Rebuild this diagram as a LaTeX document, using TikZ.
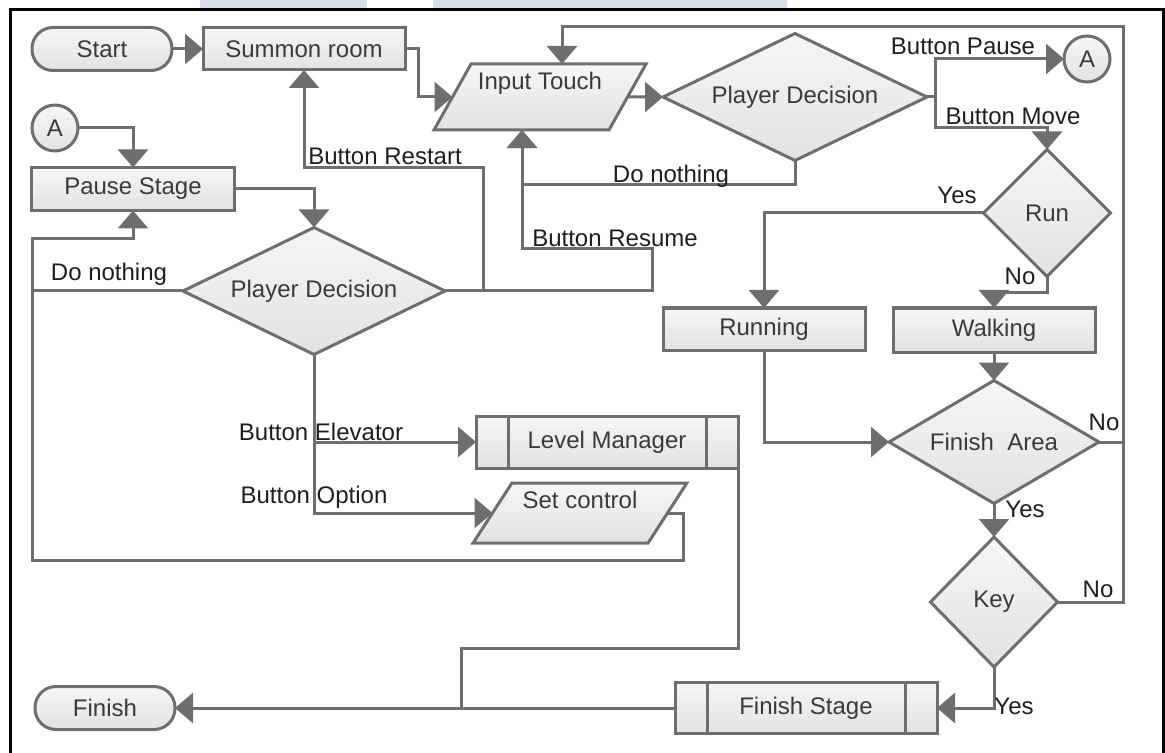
\documentclass[tikz,border=0pt]{standalone}
\usepackage{fontspec}
\setmainfont{Liberation Sans}
\usepackage{tikz}
\usepackage{xcolor}
\usetikzlibrary{arrows.meta,shapes.geometric}
\definecolor{Edge}{HTML}{6E6E6E}
\definecolor{Ink}{HTML}{3A3A3A}
\definecolor{Lbl}{HTML}{1E1E1E}
\definecolor{FillTop}{HTML}{F6F6F6}
\definecolor{FillBot}{HTML}{E2E2E2}
\definecolor{Mark}{HTML}{D5DEE8}

\begin{document}
\begin{tikzpicture}[x=0.5pt,y=-0.5pt,
  every node/.style={font=\fontsize{12}{14}\selectfont},
  box/.style={draw=Edge,line width=1.5pt,top color=FillTop,bottom color=FillBot,text=Ink,inner sep=0pt,outer sep=0pt},
  proc/.style={box,rectangle,minimum width=101pt,minimum height=21pt},
  term/.style={box,rectangle,rounded corners=10.5pt,minimum width=70pt,minimum height=21.5pt},
  decide/.style={box,diamond},
  io/.style={box,trapezium,trapezium stretches=true,minimum width=107pt},
  conn/.style={draw=Edge,line width=1.5pt},
  arr/.style={conn,-{Triangle[width=15pt,length=9pt]}},
  subproc/.style={box,rectangle,minimum width=131pt,minimum height=26pt,
    path picture={\draw[Edge,line width=1.5pt]
      ([xshift=16pt]path picture bounding box.north west) -- ([xshift=16pt]path picture bounding box.south west)
      ([xshift=-16pt]path picture bounding box.north east) -- ([xshift=-16pt]path picture bounding box.south east);}},
  lbl/.style={text=Lbl,inner sep=0pt}]
  \useasboundingbox (0,0) rectangle (1165,753);
  \fill[Mark] (200,0) rectangle (367,9);
  \fill[Mark] (433,0) rectangle (787,9);
  \draw[black,line width=1.5pt] (10,10) rectangle (1163,780);

  \node[term] (start) at (102,49) {Start};
  \node[proc] (summon) at (304,49) {Summon room};
  \node[io,minimum height=33pt,text depth=16pt,trapezium left angle=56,trapezium right angle=124] (input) at (540,97) {Input Touch};
  \node[decide,shape aspect=2.1,minimum width=132pt,minimum height=63.5pt] (pdtop) at (795,97) {Player Decision};
  \node[box,circle,minimum size=23pt] (atop) at (1087,59) {A};
  \node[decide,minimum width=63.5pt,minimum height=63.5pt] (run) at (1047,213) {Run};
  \node[proc] (running) at (764,329) {Running};
  \node[proc,minimum height=22pt] (walking) at (994,330) {Walking};
  \node[decide,shape aspect=1.7,minimum width=105pt,minimum height=61.5pt] (area) at (994,442) {Finish\ \ Area};
  \node[decide,minimum width=63.5pt,minimum height=65pt] (key) at (994,602) {Key};
  \node[subproc,minimum height=25.5pt] (fstage) at (806,708) {Finish Stage};
  \node[term] (finish) at (105,708) {Finish};
  \node[subproc] (level) at (607,442) {Level Manager};
  \node[io,minimum height=30pt,text depth=13pt,trapezium left angle=53,trapezium right angle=127] (setc) at (580,513) {Set control};
  \node[decide,shape aspect=2.1,minimum width=131pt,minimum height=63.5pt] (pdpause) at (314,291) {Player Decision};
  \node[proc,minimum width=101.5pt,minimum height=21.5pt] (pause) at (133,189) {Pause Stage};
  \node[box,circle,minimum size=23pt] (aleft) at (55,128) {A};

  \coordinate (corner) at (1123,27);
  \coordinate (restart) at (483,168);
  \coordinate (resume) at (652,249);
  \coordinate (loop) at (32,560);
  \coordinate (join) at (461,708);

  \draw[arr] (start.east) -- (summon.west);
  \draw[arr] (summon.east) -- ++(13,0) |- (input.west);
  \draw[arr] (input.east) -- (pdtop.west);
  \draw[arr] (pdtop.east) -- ++(8,0) |- (atop.west);
  \draw[arr] (pdtop.east) -- ++(8,0) |- ([yshift=11pt]run.north) -- (run.north);
  \draw[arr] (pdtop.south) -- ++(0,24) -| ([xshift=-9pt]input.south);
  \draw[arr] (run.west) -| (running.north);
  \draw[arr] (run.south) -- ++(0,16) -| (walking.north);
  \draw[arr] (walking.south) -- (area.north);
  \draw[arr] (running.south) |- (area.west);
  \draw[arr] (area.south) -- (key.north);
  \draw[arr] (area.east) -| (corner) -| ([xshift=11pt]input.north);
  \draw[conn] (key.east) -| (area.east -| corner);
  \draw[arr] (key.south) |- (fstage.east);
  \draw[arr] (fstage.west) -- (finish.east);
  \draw[conn] (level.east) |- ([yshift=30pt]join) -- (join);
  \draw[arr] (aleft.east) -| (pause.north);
  \draw[arr] (pause.east) -| (pdpause.north);
  \draw[arr] (pdpause.east) -| (restart) -| (summon.south);
  \draw[arr] (pdpause.east) -| (resume) -| ([xshift=-9pt]input.south);
  \draw[arr] (setc.east) -- ++(16,0) |- (loop) |- ([yshift=-14pt]pause.south) -- (pause.south);
  \draw[conn] (pdpause.west) -- (pdpause.west -| loop);
  \draw[arr] (pdpause.south) |- (level.west);
  \draw[arr] (pdpause.south) |- (setc.west);

  \node[lbl] (lrestart) at (385,156) {Button Restart};
  \node[lbl] (lresume) at (615,238) {Button Resume};
  \node[lbl] (ldntop) at (671,176) {Do nothing};
  \node[lbl] (ldnleft) at (109,274) {Do nothing};
  \node[lbl] (lpause) at (963,46) {Button Pause};
  \node[lbl] (lmove) at (1013,116) {Button Move};
  \node[lbl] (lyesrun) at (957,195) {Yes};
  \node[lbl] (lnorun) at (1020,276) {No};
  \node[lbl] (lnoarea) at (1104,422) {No};
  \node[lbl] (lyesarea) at (1025,509) {Yes};
  \node[lbl] (lnokey) at (1098,589) {No};
  \node[lbl] (lyeskey) at (1014,706) {Yes};
  \node[lbl] (lelev) at (321,432) {Button Elevator};
  \node[lbl] (loption) at (314,497) {Button Option};
\end{tikzpicture}
\end{document}
